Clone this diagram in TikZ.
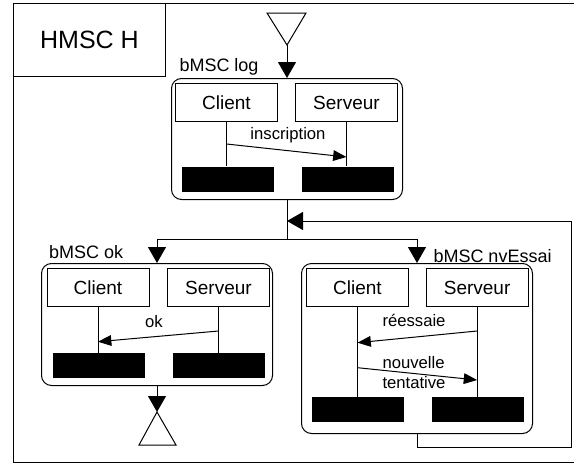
\documentclass[tikz,border=0pt]{standalone}
\usepackage{fontspec}
\setmainfont{Liberation Sans}
\usetikzlibrary{shapes,arrows,arrows.meta,positioning}

\tikzset{
  mscbox/.style={draw,rounded corners=7.5pt,anchor=north west,inner sep=0pt,minimum width=173.25pt},
  instbox/.style={draw,anchor=north west,inner sep=0pt,minimum width=76.5pt,minimum height=28.5pt,font=\fontsize{14.25}{16}\selectfont},
  endbar/.style={fill=black,anchor=north west,inner sep=0pt,minimum width=69pt,minimum height=18.75pt},
  msclabel/.style={anchor=west,inner sep=0.75pt,font=\fontsize{13.5}{15}\selectfont},
  msgtext/.style={inner sep=0.75pt,font=\fontsize{12.5}{15}\selectfont},
  flow/.style={-{Triangle[length=12pt,width=13.5pt]}},
  msg/.style={-{Triangle[length=10pt,width=8pt]}}
}

\begin{document}
\begin{tikzpicture}[x=0.75pt,y=0.75pt,yscale=-1,xscale=1,line width=0.75pt]
        \useasboundingbox (0,0) rectangle (574,464);
        % frame and title
        \draw (13,3) rectangle (580,462);
        \node [draw,anchor=north west,inner sep=0pt,minimum width=114pt,minimum height=54.75pt,font=\fontsize{18.75}{20}\selectfont] (title) at (13,3) {HMSC H};

        % bMSC log
        \node [mscbox,minimum height=90.75pt] (log) at (171,78) {};
        \node [instbox] (lc) at (175,83) {Client};
        \node [instbox] (ls) at (295,83) {Serveur};
        \node [endbar] (lbc) at (181,166) {};
        \node [endbar] (lbs) at (301,166) {};
        \draw (lc.south) -- (lc.south |- lbc.north);
        \draw (ls.south) -- (ls.south |- lbs.north);
        \coordinate (m1a) at (lc.south |- 0,144);
        \coordinate (m1b) at (ls.south |- 0,157);
        \draw [msg] (m1a) -- (m1b);
        \node [msgtext] (lbl1) at (288,135) {inscription};
        \node [msclabel] (tlog) at (178,67) {bMSC log};

        % bMSC ok
        \node [mscbox,minimum height=91.5pt] (ok) at (41,263) {};
        \node [instbox] (oc) at (46.5,268) {Client};
        \node [instbox] (os) at (167,268) {Serveur};
        \node [endbar] (obc) at (52,352.7) {};
        \node [endbar] (obs) at (172,352.7) {};
        \draw (oc.south) -- (oc.south |- obc.north);
        \draw (os.south) -- (os.south |- obs.north);
        \coordinate (m2a) at (os.south |- 0,331);
        \coordinate (m2b) at (oc.south |- 0,341.7);
        \draw [msg] (m2a) -- (m2b);
        \node [msgtext] (lbl2) at (154,321.7) {ok};
        \node [msclabel] (tok) at (47.6,251.7) {bMSC ok};

        % bMSC nvEssai
        \node [mscbox,minimum height=127.5pt] (nv) at (301,263) {};
        \node [instbox] (nc) at (306,268) {Client};
        \node [instbox] (ns) at (425.6,268) {Serveur};
        \node [endbar] (nbc) at (311,396.7) {};
        \node [endbar] (nbs) at (431,396.7) {};
        \draw (nc.south) -- (nc.south |- nbc.north);
        \draw (ns.south) -- (ns.south |- nbs.north);
        \coordinate (m3a) at (ns.south |- 0,331);
        \coordinate (m3b) at (nc.south |- 0,342.7);
        \draw [msg] (m3a) -- (m3b);
        \coordinate (m4a) at (nc.south |- 0,367.7);
        \coordinate (m4b) at (ns.south |- 0,380);
        \draw [msg] (m4a) -- (m4b);
        \node [msgtext] (lbl3) at (414,320.7) {réessaie};
        \node [msgtext,anchor=west,align=left] (lbl4) at (381,373) {nouvelle\\tentative};
        \node [msclabel] (tnv) at (432,255.7) {bMSC nvEssai};

        % start and end
        \coordinate (start) at (log.north |- 0,45);
        \draw (267,13) -- (306,13) -- (start) -- cycle;
        \draw [flow] (start) -- (log.north);
        \coordinate (stop) at (ok.south |- 0,412);
        \draw [flow] (ok.south) -- (stop);
        \draw (stop) -- (139,445) -- (176,445) -- cycle;

        % branching and loop
        \coordinate (split) at (log.south |- 0,239);
        \coordinate (join) at (log.south |- 0,221);
        \coordinate (back) at (571,447);
        \draw (log.south) -- (split);
        \draw [flow] (split) -| (ok.north);
        \draw [flow] (split) -| (nv.north);
        \draw [flow] (nv.south) |- (back) |- (join);
    \end{tikzpicture}
\end{document}
